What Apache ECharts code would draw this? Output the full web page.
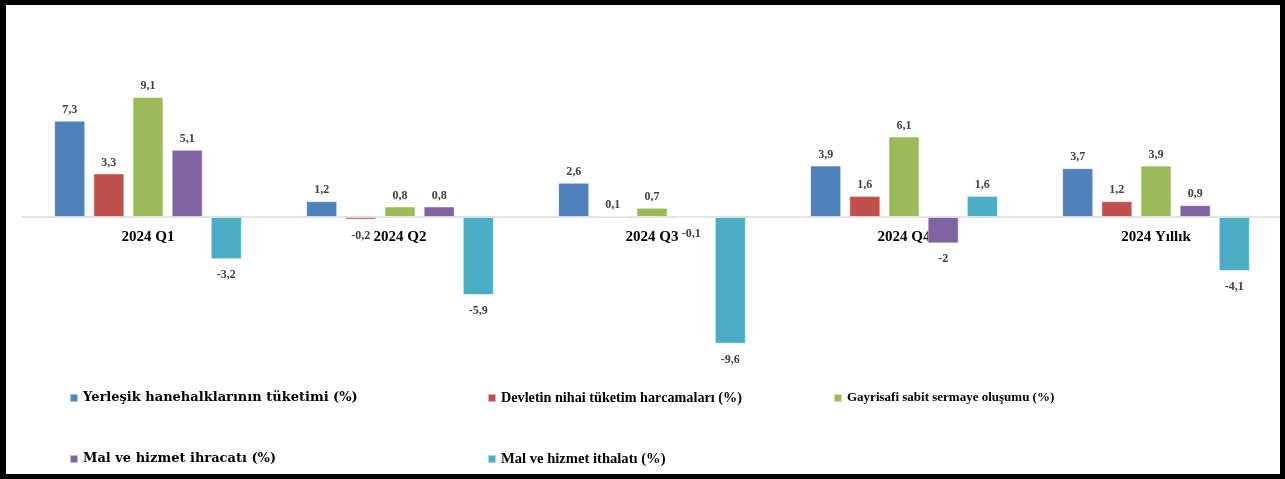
<!DOCTYPE html>
<html>
<head>
<meta charset="utf-8">
<script src="https://cdn.jsdelivr.net/npm/echarts@6/dist/echarts.min.js"></script>
<style>
  html, body { margin: 0; padding: 0; background: #fff; }
  #frame { position: absolute; left: 0; top: 0; width: 1285px; height: 479px; box-sizing: border-box; border: 5px solid #000; border-left-width: 6px; }
  #chart { position: absolute; left: 0; top: 0; width: 1285px; height: 479px; }
</style>
</head>
<body>
<div id="chart"></div>
<div id="frame"></div>
<script>
// Quarterly and annual growth contributions, 2024 (%)
const categories = ['2024 Q1', '2024 Q2', '2024 Q3', '2024 Q4', '2024 Yıllık'];
const seriesNames = [
  'Yerleşik hanehalklarının tüketimi (%)',
  'Devletin nihai tüketim harcamaları (%)',
  'Gayrisafi sabit sermaye oluşumu (%)',
  'Mal ve hizmet ihracatı (%)',
  'Mal ve hizmet ithalatı (%)'
];
const hanehalki = [7.3, 1.2, 2.6, 3.9, 3.7];
const devlet    = [3.3, -0.2, 0.1, 1.6, 1.2];
const gsso      = [9.1, 0.8, 0.7, 6.1, 3.9];
const ihracat   = [5.1, 0.8, -0.1, -2, 0.9];
const ithalat   = [-3.2, -5.9, -9.6, 1.6, -4.1];

const colors = ['#4F81BD', '#C0504D', '#9BBB59', '#8064A2', '#4BACC6'];
const values = [hanehalki, devlet, gsso, ihracat, ithalat];
const serif = '"Liberation Serif", "DejaVu Serif", serif';
const wideSerif = '"DejaVu Serif", serif';

const fmt = v => String(v).replace('.', ',');

const series = values.map((vals, i) => ({
  name: seriesNames[i],
  type: 'bar',
  barGap: '26%',
  barCategoryGap: '25.5%',
  itemStyle: { color: colors[i], borderColor: 'rgba(255,255,255,0.55)', borderWidth: 1 },
  data: vals.map(v => ({
    value: v,
    label: {
      show: true,
      position: v >= 0 ? 'top' : 'bottom',
      distance: v >= 0 ? 5 : 10,
      formatter: () => fmt(v),
      color: '#404040',
      fontFamily: serif,
      fontWeight: 'bold',
      fontSize: 12
    }
  }))
}));

// legend entries laid out as a 3-column grid: [left, top, font, size]
const legendLayout = [
  [69, 390, wideSerif, 13],
  [487, 390, serif, 14.2],
  [833, 390, serif, 13],
  [69, 451, wideSerif, 13],
  [487, 451, serif, 14.6]
];
const legends = seriesNames.map((n, i) => ({
  data: [n],
  left: legendLayout[i][0],
  top: legendLayout[i][1],
  padding: 0,
  itemWidth: 8,
  itemHeight: 8,
  icon: 'rect',
  textStyle: {
    fontFamily: legendLayout[i][2],
    fontWeight: 'bold',
    fontSize: legendLayout[i][3],
    lineHeight: 16,
    color: '#000'
  },
  selectedMode: false
}));

const chart = echarts.init(document.getElementById('chart'));
chart.setOption({
  animation: false,
  color: colors,
  legend: legends,
  grid: { left: 22, right: 3, top: 85, height: 264 },
  xAxis: {
    type: 'category',
    data: categories,
    axisLine: { onZero: true, lineStyle: { color: '#d9d9d9', width: 1.5 } },
    axisTick: { show: false },
    axisLabel: { margin: -119, fontFamily: serif, fontWeight: 'bold', fontSize: 15, color: '#000' }
  },
  yAxis: {
    type: 'value',
    min: -10,
    max: 10,
    show: false,
    splitLine: { show: false }
  },
  series: series
});
</script>
</body>
</html>
